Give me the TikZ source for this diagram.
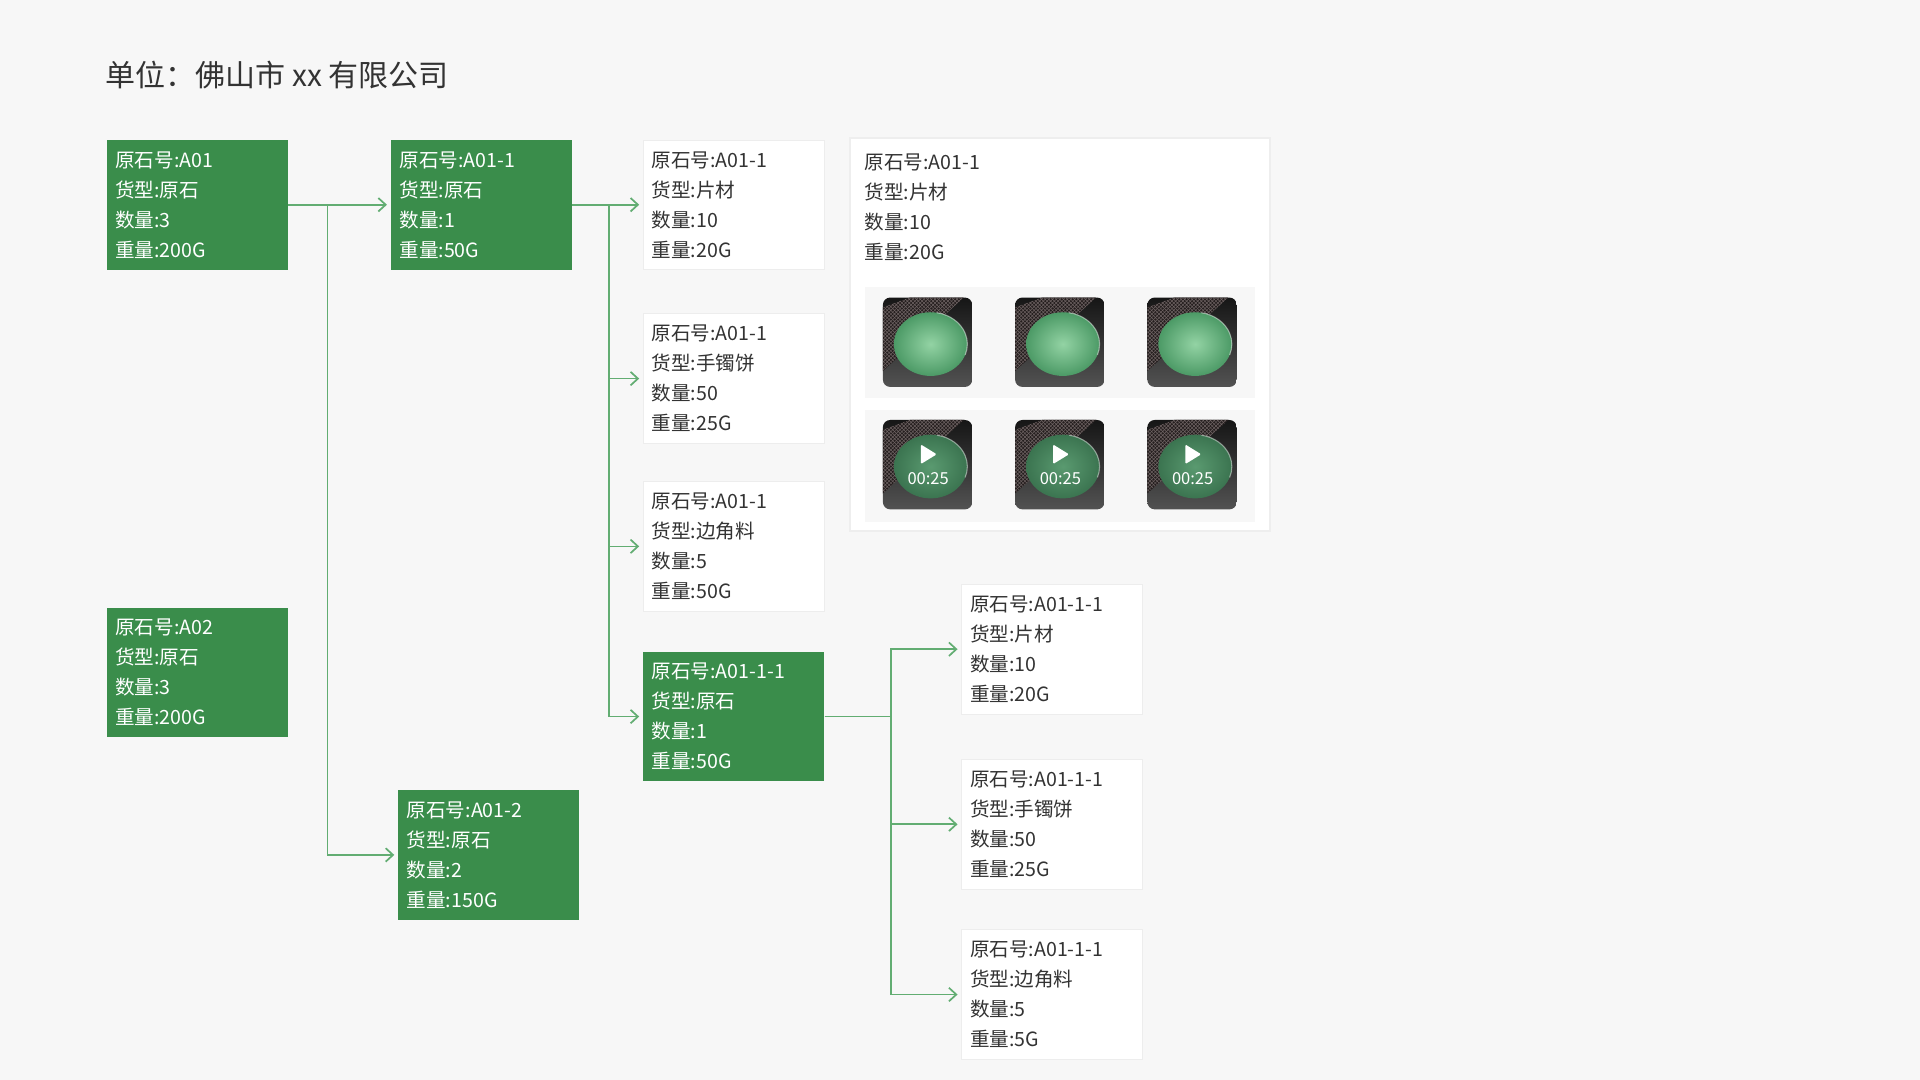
\documentclass[tikz,border=0pt]{standalone}
\usepackage{fontspec}
\setmainfont{Noto Sans CJK SC}
\usepackage[HTML]{xcolor}
\usepackage{tikz}
\usetikzlibrary{positioning, arrows.meta, shadows, patterns}

\definecolor{pagebg}{HTML}{F7F7F7}
\definecolor{boxgreen}{HTML}{3A8D4B}
\definecolor{linegreen}{HTML}{62AD72}
\definecolor{ink}{HTML}{333333}
\definecolor{edge}{HTML}{EDEDED}
\definecolor{tiletop}{HTML}{161616}
\definecolor{tilebot}{HTML}{525252}
\definecolor{standbrown}{HTML}{241E1E}
\definecolor{standcarve}{HTML}{6E6363}
\definecolor{jadelight}{HTML}{93D3A4}
\definecolor{jadedeep}{HTML}{4C9A66}
\definecolor{vidlight}{HTML}{5A9A70}
\definecolor{viddeep}{HTML}{3B7450}

\tikzset{
  stone/.style={rectangle, anchor=north west, minimum width=148pt, minimum height=106pt,
    text width=134pt, align=left, inner sep=0pt, font=\fontsize{16}{24.5}\selectfont},
  rawbox/.style={stone, fill=boxgreen, text=white},
  cutbox/.style={stone, fill=white, draw=edge, text=ink},
  flow/.style={linegreen, line width=1.4pt, -{Straight Barb[length=6pt,width=11pt]}, shorten >=3pt},
}

% one photo tile, #1,#2 top left corner, #3=1 for a video
\newcommand{\jadetile}[3]{%
  \begin{scope}[shift={(#1,#2)}]
    \begin{scope}
      \clip[rounded corners=6pt] (0,0) rectangle (73,73);
      \shade[top color=tiletop, bottom color=tilebot] (0,0) rectangle (73,73);
      \fill[standbrown] (0,8) -- (22,0) -- (66,0) -- (0,60) -- cycle;
      \fill[pattern=crosshatch, pattern color=standcarve] (0,8) -- (22,0) -- (66,0) -- (0,60) -- cycle;
      \ifnum#3=1
        \shade[inner color=vidlight, outer color=viddeep] (39,38) ellipse [x radius=30, y radius=26];
      \else
        \shade[inner color=jadelight, outer color=jadedeep] (39,38) ellipse [x radius=30, y radius=26];
      \fi
      \draw[white, opacity=.45, line width=0.9pt] (39,38) ++(-80:30 and 26)
        arc[start angle=-80, end angle=20, x radius=30, y radius=26];
    \end{scope}
    \ifnum#3=1
      \fill[white, rounded corners=1pt] (31,20) -- (31,36) -- (44,28) -- cycle;
      \node[text=white, inner sep=0pt, font=\fontsize{13.5}{14}\selectfont] (dur#1) at (37,48) {00:25};
    \fi
  \end{scope}}

\begin{document}
\begin{tikzpicture}[x=1pt, y=-1pt]
\fill[pagebg] (0,0) rectangle (1568,882);
\useasboundingbox (0,0) rectangle (1568,882);

% title
\node[anchor=west, inner sep=0pt, text=ink, font=\fontsize{24.5}{28}\selectfont] (unit) at (86,61) {单位：佛山市 xx 有限公司};

% rough stones
\node[rawbox] (a01) at (87,114) {原石号:A01\\货型:原石\\数量:3\\重量:200G};
\node[rawbox] (a02) at (87,496) {原石号:A02\\货型:原石\\数量:3\\重量:200G};
\node[rawbox] (a011) at (319,114) {原石号:A01-1\\货型:原石\\数量:1\\重量:50G};
\node[rawbox] (a012) at (325,645) {原石号:A01-2\\货型:原石\\数量:2\\重量:150G};
\node[rawbox] (a0111) at (525,532) {原石号:A01-1-1\\货型:原石\\数量:1\\重量:50G};

% cut pieces
\node[cutbox] (p1) at (525,114) {原石号:A01-1\\货型:片材\\数量:10\\重量:20G};
\node[cutbox] (p2) at (525,256) {原石号:A01-1\\货型:手镯饼\\数量:50\\重量:25G};
\node[cutbox] (p3) at (525,393) {原石号:A01-1\\货型:边角料\\数量:5\\重量:50G};
\node[cutbox] (q1) at (785,477) {原石号:A01-1-1\\货型:片材\\数量:10\\重量:20G};
\node[cutbox] (q2) at (785,620) {原石号:A01-1-1\\货型:手镯饼\\数量:50\\重量:25G};
\node[cutbox] (q3) at (785,759) {原石号:A01-1-1\\货型:边角料\\数量:5\\重量:5G};

% detail card with photos and videos
\node[rectangle, anchor=north west, fill=white, minimum width=341pt, minimum height=320pt,
  drop shadow={shadow xshift=0pt, shadow yshift=0pt, shadow scale=1.01, opacity=.07}] (card) at (695,113) {};
\node[stone, text=ink] (cardtext) at (699,116) {原石号:A01-1\\货型:片材\\数量:10\\重量:20G};
\node[rectangle, anchor=north west, fill=pagebg, minimum width=319pt, minimum height=91pt, inner sep=0pt] (photos) at (706,234) {};
\node[rectangle, anchor=north west, fill=pagebg, minimum width=319pt, minimum height=91pt, inner sep=0pt] (videos) at (706,335) {};
\foreach \tx in {721,829,937} {
  \jadetile{\tx}{243}{0}
  \jadetile{\tx}{343}{1}
}

% connectors
\draw[flow] (a01.east) -- (a011.west);
\draw[flow] (a01.east) -- ++(32,0) |- (a012.west);
\draw[flow] (a011.east) -- (p1.west);
\draw[flow] (a011.east) -- ++(30,0) |- (p2.west);
\draw[flow] (a011.east) -- ++(30,0) |- (p3.west);
\draw[flow] (a011.east) -- ++(30,0) |- (a0111.west);
\draw[flow] (a0111.east) -- ++(54,0) |- (q1.west);
\draw[flow] (a0111.east) -- ++(54,0) |- (q2.west);
\draw[flow] (a0111.east) -- ++(54,0) |- (q3.west);
\end{tikzpicture}
\end{document}
